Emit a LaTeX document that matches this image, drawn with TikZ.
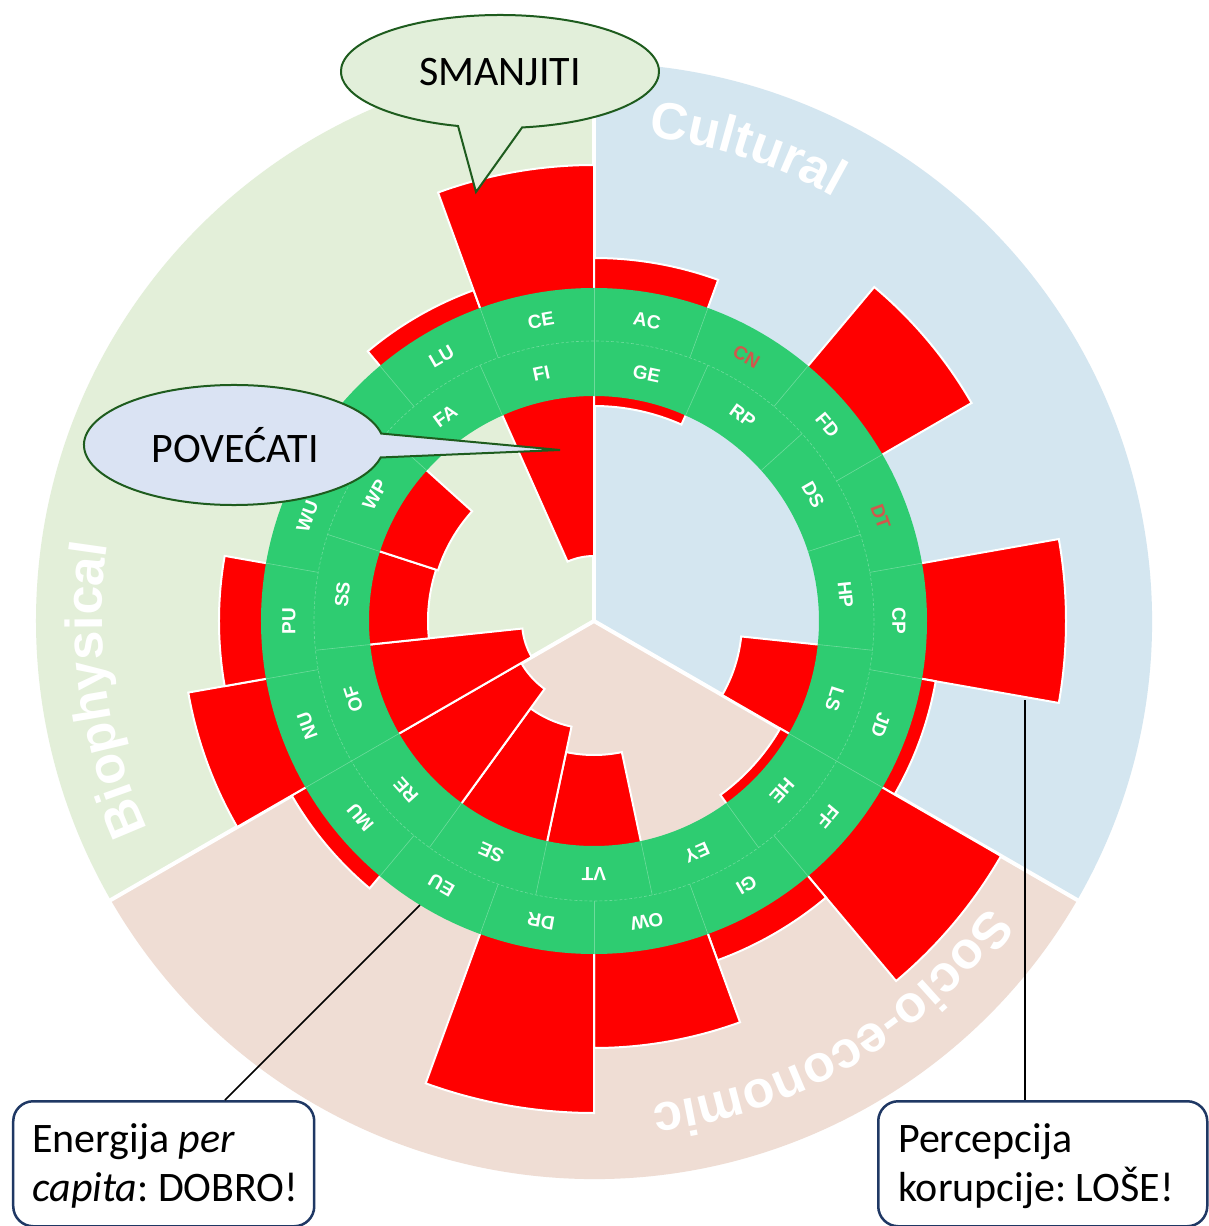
\documentclass[tikz,border=0pt]{standalone}
\usepackage{fontspec}
\setmainfont{Carlito}
\newfontfamily\arialfam{Liberation Sans}
\usetikzlibrary{decorations.text,calc}
\frenchspacing

\definecolor{bioBg}{HTML}{E3EFD9}
\definecolor{culBg}{HTML}{D4E6F0}
\definecolor{socBg}{HTML}{EFDDD4}
\definecolor{ringGreen}{HTML}{2ECC71}
\definecolor{barRed}{HTML}{FF0000}
\definecolor{missRed}{HTML}{D0584C}
\definecolor{calloutEdge}{HTML}{1E5C1E}
\definecolor{greenCall}{HTML}{E2EFDA}
\definecolor{blueCall}{HTML}{DAE3F3}
\definecolor{boxEdge}{HTML}{1F3864}

% annular bar: centre angle, half width, radius 1, radius 2
\newcommand\sectorbar[4]{%
  \filldraw[barfill] ({#1-#2}:#3pt) arc[start angle={#1-#2}, end angle={#1+#2}, radius=#3pt]
    -- ({#1+#2}:#4pt) arc[start angle={#1+#2}, end angle={#1-#2}, radius=#4pt] -- cycle;}
\newcommand\sectorfont{\arialfam\bfseries\fontsize{52}{52}\selectfont\color{white}}

\begin{document}
\begin{tikzpicture}[x=1pt,y=1pt,
  barfill/.style={fill=barRed, draw=white, line width=2pt},
  divider/.style={draw=ringGreen!70!white, line width=0.6pt},
  ringlabel/.style={font=\arialfam\bfseries\fontsize{19}{19}\selectfont, text=white, inner sep=0pt},
  callout/.style={draw=calloutEdge, line width=2pt},
  calltext/.style={font=\fontsize{42}{42}\selectfont, inner sep=0pt},
  infobox/.style={draw=boxEdge, line width=2.5pt, rounded corners=20pt, fill=white, inner sep=0pt, anchor=north west},
  boxtext/.style={font=\fontsize{42}{42}\selectfont, anchor=base west, inner sep=0pt},
  pointer/.style={draw=black, line width=1.5pt}]

\fill[white] (-594,-605) rectangle (615,621);
\useasboundingbox (-594,-605) rectangle (615,621);

% three domains
\fill[bioBg] (0,0) -- (90:558pt) arc[start angle=90, end angle=210, radius=558pt] -- cycle;
\fill[culBg] (0,0) -- (-30:558pt) arc[start angle=-30, end angle=90, radius=558pt] -- cycle;
\fill[socBg] (0,0) -- (210:558pt) arc[start angle=210, end angle=330, radius=558pt] -- cycle;
\foreach \a in {90,-30,210} \draw[white, line width=4pt] (0,0) -- (\a:560pt);

% outer indicator bars
\foreach \a/\rad in {120/352, 100/456, 80/363, 40/436, 0/472, -20/347, -40/470, -60/361,
                     -80/427, -100/492, -140/349, -160/412, 180/375}
  {\sectorbar{\a}{10}{326}{\rad}}

% inner indicator bars
\foreach \a/\rad in {102/65, 78/215, -18/148, -42/215, -90/134, -114/108, -138/84,
                     -162/72, 174/166, 150/164}
  {\sectorbar{\a}{12}{232}{\rad}}

% green label ring
\fill[ringGreen, even odd rule] (0,0) circle[radius=333pt] (0,0) circle[radius=225pt];
\foreach \k in {0,...,17} \draw[divider] ({90-20*\k}:280pt) -- ({90-20*\k}:333pt);
\foreach \k in {0,...,14} \draw[divider] ({90-24*\k}:225pt) -- ({90-24*\k}:280pt);
\draw[divider, dash pattern=on 3pt off 2pt] (0,0) circle[radius=280pt];

% ring labels
\foreach \l/\a in {AC/80, FD/40, CP/0, JD/-20, FF/-40, GI/-60, OW/-80, DR/-100, EU/-120,
                   MU/-140, NU/-160, PU/180, WU/160, LU/120, CE/100}
  {\node[ringlabel, rotate={\a-90}] (out-\l) at (\a:305pt) {\l};}
\foreach \l/\a in {CN/60, DT/20}
  {\node[ringlabel, text=missRed, rotate={\a-90}] (out-\l) at (\a:305pt) {\l};}
\foreach \l/\a in {FI/102, GE/78, RP/54, DS/30, HP/6, LS/-18, HE/-42, EY/-66, VT/-90,
                   SE/-114, RE/-138, OF/-162, SS/174, WP/150, FA/126}
  {\node[ringlabel, rotate={\a-90}] (in-\l) at (\a:253pt) {\l};}

% domain names along the rim
\path[decorate, decoration={text along path, text align=center, text={|\sectorfont|Cultural}}]
  (112:487pt) arc[start angle=112, end angle=32, radius=487pt];
\path[decorate, decoration={text along path, text align=center, text={|\sectorfont|Biophysical}}]
  (228:492pt) arc[start angle=228, end angle=148, radius=492pt];
\path[decorate, decoration={text along path, text align=center, text={|\sectorfont|Socio-economic}}]
  (-19.5:487pt) arc[start angle=-19.5, end angle=-99.5, radius=487pt];

% annotation boxes and their leaders
\node[infobox, minimum width=301pt, minimum height=125pt] (energybox) at (-582,-479) {};
\node[boxtext] (energyA) at (-562,-531) {Energija \textit{per}};
\node[boxtext] (energyB) at (-562,-580) {\textit{capita}: DOBRO!};
\coordinate (euend) at (-174,-284);
\draw[pointer] ($(energybox.north west)+(213pt,0)$) -- (euend);

\node[infobox, minimum width=329pt, minimum height=125pt] (corruptbox) at (283,-479) {};
\node[boxtext] (corruptA) at (304,-531) {Percepcija};
\node[boxtext] (corruptB) at (304,-580) {korupcije: LOŠE!};
\coordinate (cpend) at (431,-79);
\draw[pointer] ($(corruptbox.north west)+(148pt,0)$) -- (cpend);

% speech bubbles
\filldraw[callout, fill=greenCall] (-94,549.5) ++(278:159pt and 56.5pt)
  arc[start angle=278, end angle=614.7, x radius=159pt, y radius=56.5pt] -- (-118,429) -- cycle;
\node[calltext] (reduce) at (-94,549) {SMANJITI};

\filldraw[callout, fill=blueCall] (-360,176) ++(11:150pt and 60pt)
  arc[start angle=11, end angle=348, x radius=150pt, y radius=60pt] -- (-34,171) -- cycle;
\node[calltext] (increase) at (-359,176) {POVEĆATI};
\end{tikzpicture}
\end{document}
